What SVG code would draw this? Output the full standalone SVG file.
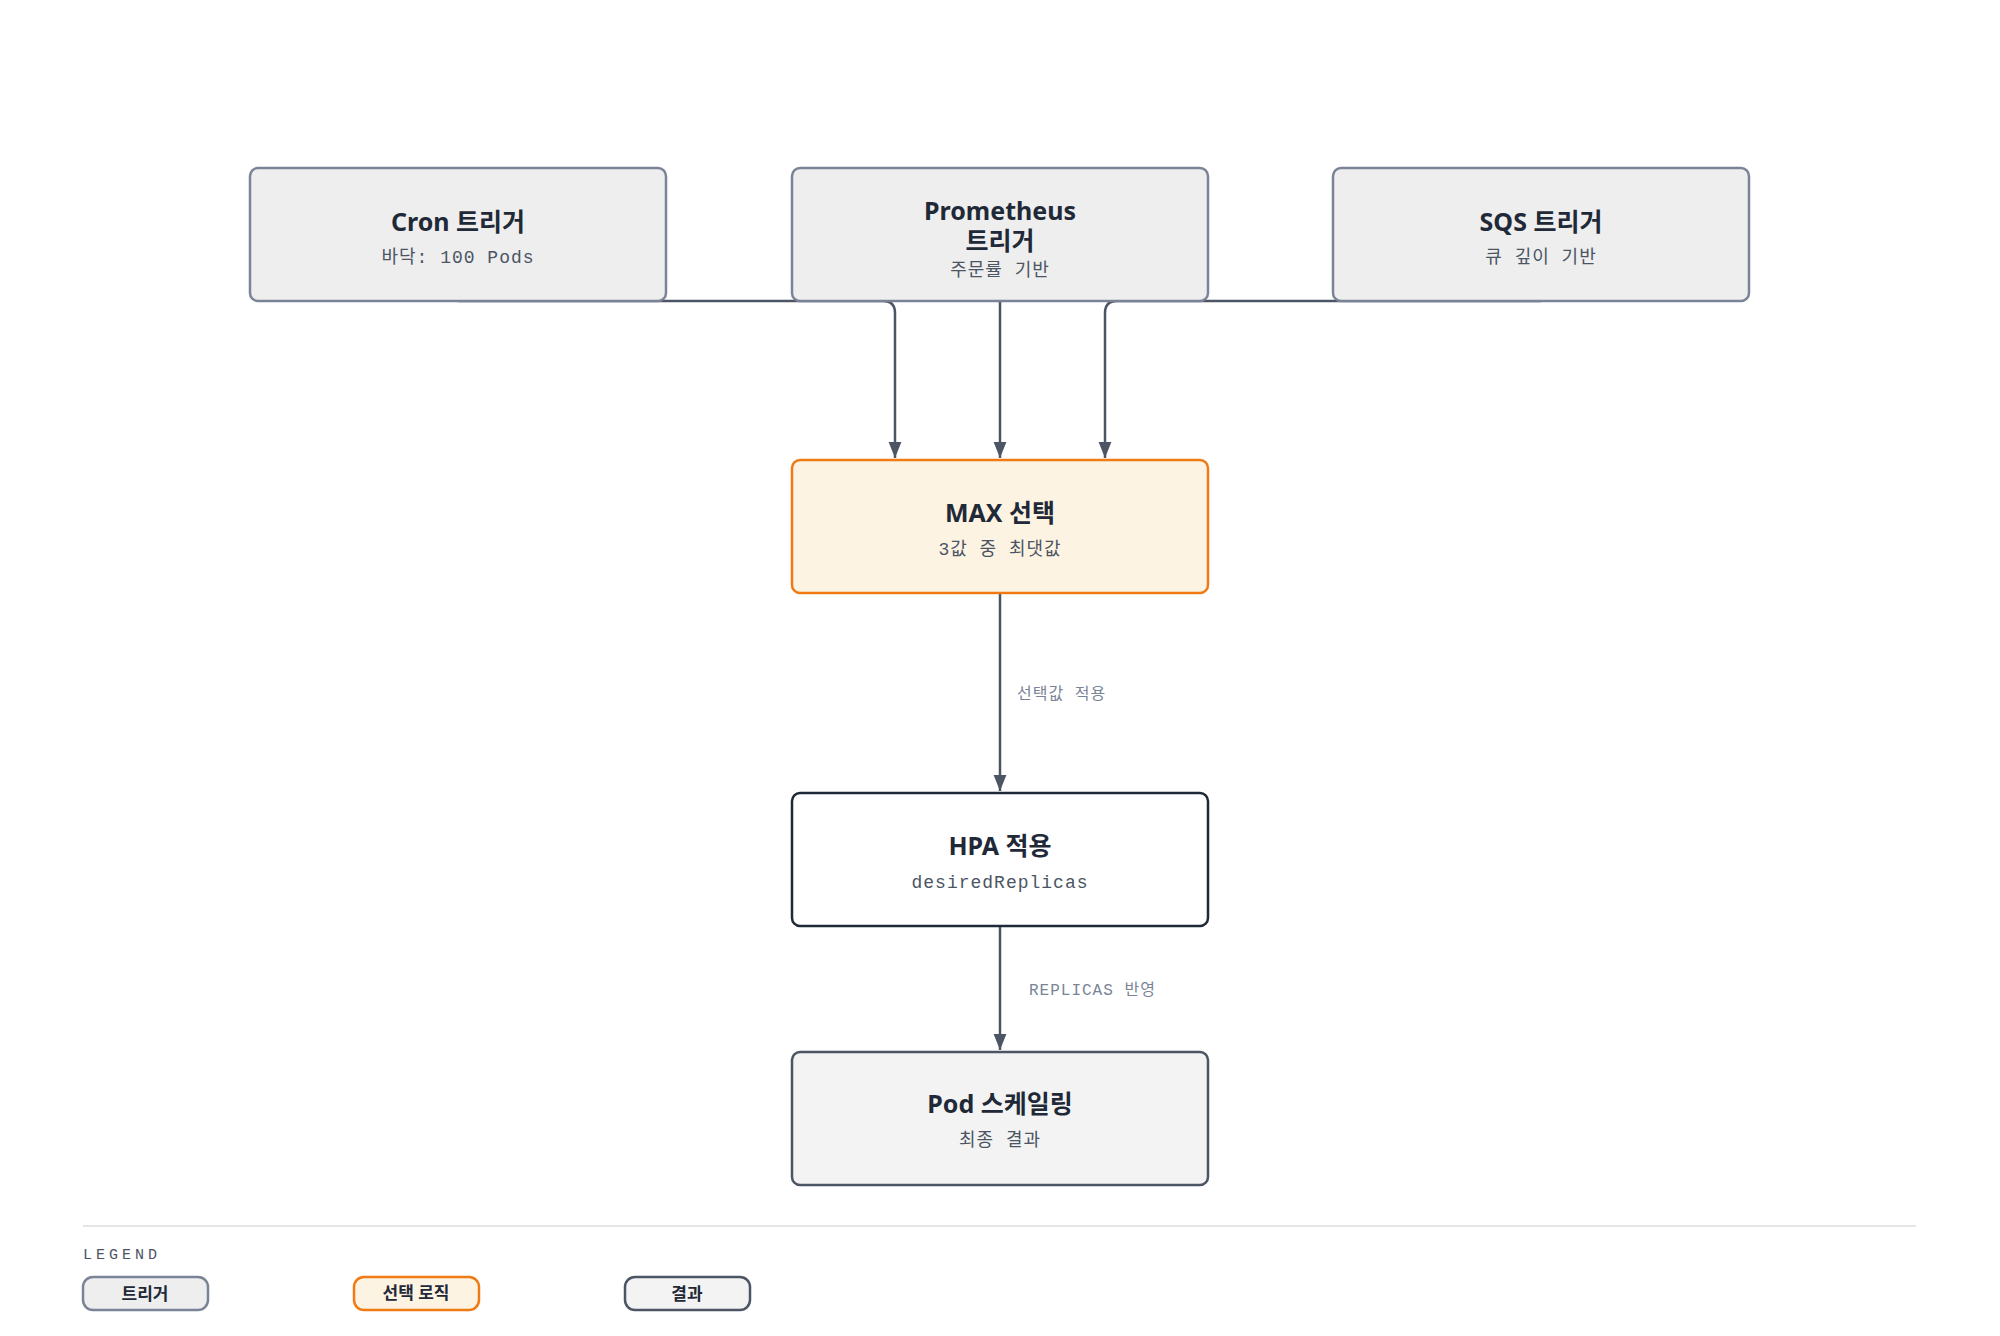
<svg xmlns="http://www.w3.org/2000/svg" width="2000" height="1336" viewBox="0 0 2000 1336">
<style>
.t{font-family:"Noto Sans","Noto Sans CJK KR",sans-serif;font-weight:700;font-size:25px;fill:#1f2937;text-anchor:middle}
.s{font-family:"Liberation Mono","Noto Sans CJK KR",monospace;font-size:18px;letter-spacing:1px;fill:#4b5563;text-anchor:middle}
.el{font-family:"Liberation Mono","Noto Sans CJK KR",monospace;font-size:16px;letter-spacing:1px;fill:#7a8496}
.c{fill:none;stroke:#4b5563;stroke-width:2.5}
.trig{fill:#eeeeee;stroke:#7a8496;stroke-width:2.5}
.lt{font-family:"Noto Sans","Noto Sans CJK KR",sans-serif;font-weight:700;font-size:17px;fill:#1f2937;text-anchor:middle}
</style>
<defs><marker id="ah" viewBox="0 0 10 10" refX="10" refY="5" markerWidth="16" markerHeight="16" orient="auto" markerUnits="userSpaceOnUse"><path d="M0,1L10,5L0,9z" fill="#4b5563"/></marker></defs>
<rect width="2000" height="1336" fill="#fff"/>
<g id="connectors">
<path class="c" d="M458,301H883Q895,301 895,313V458" marker-end="url(#ah)"/>
<path class="c" d="M1000,301V458" marker-end="url(#ah)"/>
<path class="c" d="M1541,301H1117Q1105,301 1105,313V458" marker-end="url(#ah)"/>
<path class="c" d="M1000,593V791" marker-end="url(#ah)"/>
<path class="c" d="M1000,926V1050" marker-end="url(#ah)"/>
<text class="el" x="1017" y="699">선택값 적용</text>
<text class="el" x="1029" y="995">REPLICAS 반영</text>
</g>
<g id="cron"><rect class="trig" x="250" y="168" width="416" height="133" rx="8"/><text class="t" x="458" y="231">Cron 트리거</text><text class="s" x="458" y="263">바닥: 100 Pods</text></g>
<g id="prometheus"><rect class="trig" x="792" y="168" width="416" height="133" rx="8"/><text class="t" x="1000" y="220">Prometheus</text><text class="t" x="1000" y="250">트리거</text><text class="s" x="1000" y="276">주문률 기반</text></g>
<g id="sqs"><rect class="trig" x="1333" y="168" width="416" height="133" rx="8"/><text class="t" x="1541" y="231">SQS 트리거</text><text class="s" x="1541" y="263">큐 깊이 기반</text></g>
<g id="max"><rect x="792" y="460" width="416" height="133" rx="8" fill="#fdf3e3" stroke="#f07b14" stroke-width="2.5"/><text class="t" x="1000" y="522">MAX 선택</text><text class="s" x="1000" y="555">3값 중 최댓값</text></g>
<g id="hpa"><rect x="792" y="793" width="416" height="133" rx="8" fill="#fff" stroke="#1f2937" stroke-width="2.5"/><text class="t" x="1000" y="855">HPA 적용</text><text class="s" x="1000" y="888">desiredReplicas</text></g>
<g id="pod"><rect x="792" y="1052" width="416" height="133" rx="8" fill="#f3f3f3" stroke="#4b5563" stroke-width="2.5"/><text class="t" x="1000" y="1113">Pod 스케일링</text><text class="s" x="1000" y="1146">최종 결과</text></g>
<g id="legend">
<line x1="83" y1="1226" x2="1916" y2="1226" stroke="#e5e5e5" stroke-width="2"/>
<text x="83" y="1259" font-family="Liberation Mono,monospace" font-size="15" letter-spacing="4" fill="#4b5563">LEGEND</text>
<rect x="83" y="1277" width="125" height="33" rx="10" fill="#eeeeee" stroke="#7a8496" stroke-width="2.5"/><text class="lt" x="145" y="1300">트리거</text>
<rect x="354" y="1277" width="125" height="33" rx="10" fill="#fdf3e3" stroke="#f07b14" stroke-width="2.5"/><text class="lt" x="416" y="1299">선택 로직</text>
<rect x="625" y="1277" width="125" height="33" rx="10" fill="#f3f3f3" stroke="#4b5563" stroke-width="2.5"/><text class="lt" x="687" y="1300">결과</text>
</g>
</svg>
